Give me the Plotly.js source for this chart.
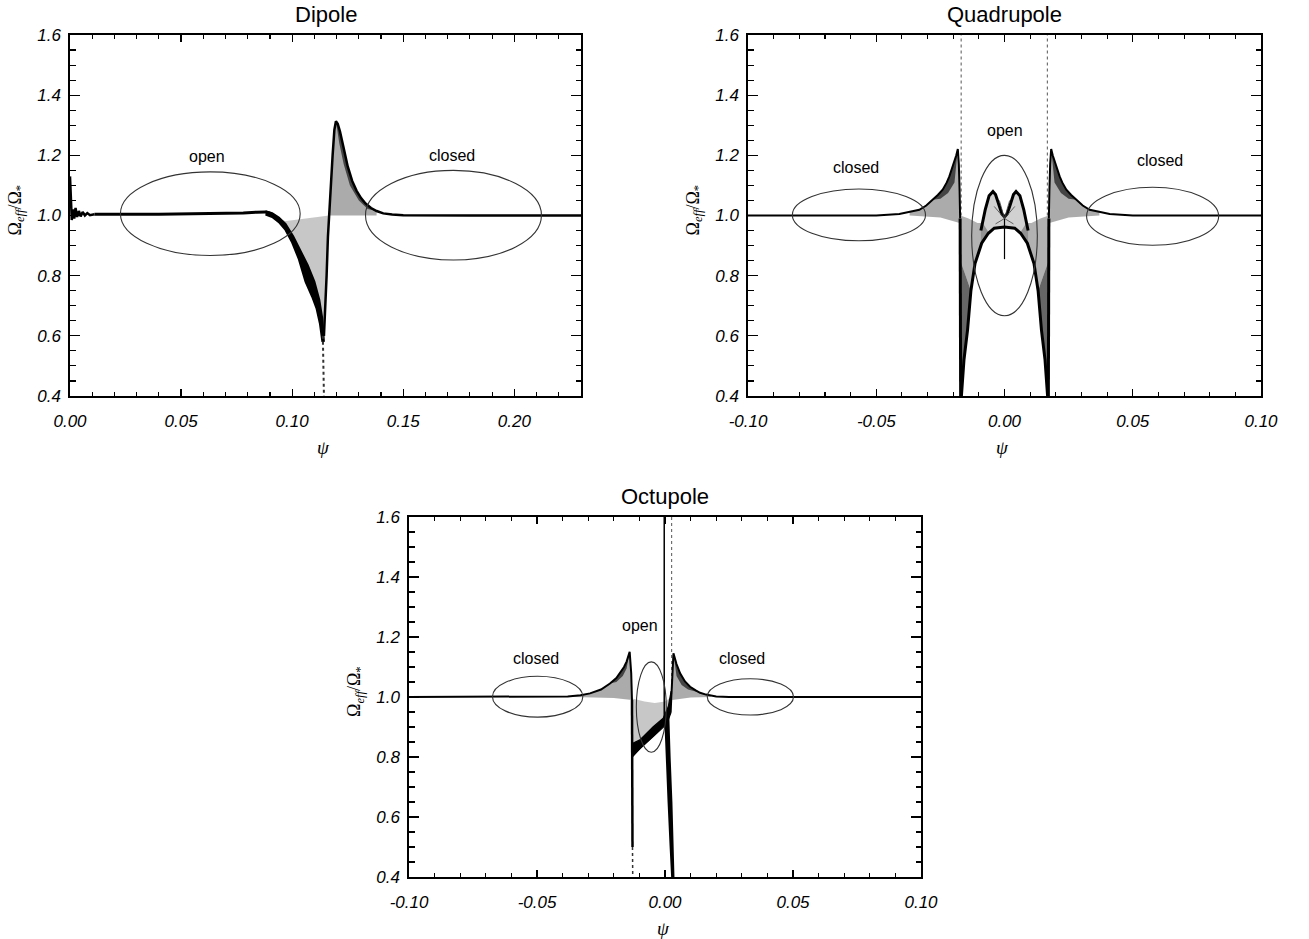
<!DOCTYPE html>
<html><head><meta charset="utf-8">
<script src="https://cdn.plot.ly/plotly-3.0.1.min.js"></script>
<style>html,body{margin:0;padding:0;background:#fff}</style>
</head><body>
<div id="plot" style="width:1309px;height:939px"></div>
<script>
// ---------------- Tick labels ----------------
const dipTickVals = [0, 0.05, 0.1, 0.15, 0.2];
const dipTickText = ['0.00', '0.05', '0.10', '0.15', '0.20'];
const multTickVals = [-0.1, -0.05, 0, 0.05, 0.1];
const multTickText = ['-0.10', '-0.05', '0.00', '0.05', '0.10'];
const yTickVals = [0.4, 0.6, 0.8, 1.0, 1.2, 1.4, 1.6];
const yTickText = ['0.4', '0.6', '0.8', '1.0', '1.2', '1.4', '1.6'];

// ---------------- Dipole data ----------------
const dipNoiseX = [0, 0.0004, 0.0008, 0.0013, 0.0019, 0.0025, 0.0032, 0.004, 0.0048, 0.0057, 0.0067, 0.0078, 0.009, 0.011];
const dipNoiseY = [1.13, 1.02, 0.985, 1.02, 0.99, 1.025, 0.995, 1.015, 0.997, 1.012, 1.0, 1.008, 1.001, 1.004];
const dipFlatX = [0.011, 0.02, 0.03, 0.04, 0.05, 0.06, 0.07, 0.078, 0.084, 0.088, 0.09];
const dipFlatY = [1.004, 1.003, 1.004, 1.004, 1.005, 1.005, 1.006, 1.008, 1.011, 1.012, 1.008];
const dipBundleUpX = [0.088, 0.091, 0.094, 0.097, 0.1005, 0.104, 0.107, 0.11, 0.1122, 0.1135, 0.1143];
const dipBundleUpY = [1.014, 1.008, 0.993, 0.972, 0.93, 0.88, 0.835, 0.78, 0.72, 0.66, 0.58];
const dipBundleLoX = [0.088, 0.091, 0.094, 0.097, 0.1, 0.103, 0.106, 0.109, 0.111, 0.1125, 0.1136];
const dipBundleLoY = [1.003, 0.995, 0.978, 0.952, 0.91, 0.855, 0.78, 0.73, 0.69, 0.64, 0.58];
const dipTailX = [0.1138, 0.114, 0.1141, 0.1143];
const dipTailY = [0.60, 0.52, 0.46, 0.40];
const dipPeakX = [0.1143, 0.1149, 0.1155, 0.1161, 0.1166, 0.1174, 0.1182, 0.119, 0.1197, 0.1205, 0.1215, 0.123, 0.125, 0.127, 0.129, 0.131, 0.133, 0.1355, 0.138, 0.141, 0.145, 0.15, 0.16, 0.18, 0.2, 0.23];
const dipPeakY = [0.60, 0.68, 0.80, 0.93, 1.0, 1.1, 1.2, 1.285, 1.313, 1.305, 1.28, 1.23, 1.163, 1.115, 1.082, 1.058, 1.04, 1.025, 1.015, 1.007, 1.003, 1.001, 1.0, 1.0, 1.0, 1.0];
const dipFanUpTopX = [0.1166, 0.1174, 0.1182, 0.119, 0.1197, 0.1205, 0.1215, 0.123, 0.125, 0.127, 0.129, 0.131, 0.133, 0.1355, 0.138];
const dipFanUpTopY = [1.0, 1.1, 1.2, 1.285, 1.313, 1.305, 1.28, 1.23, 1.163, 1.115, 1.082, 1.058, 1.04, 1.025, 1.015];
const dipFanUpBaseX = [0.1166, 0.138];
const dipFanUpBaseY = [1.0, 1.0];
const dipDarkInX = [0.1197, 0.1212, 0.1232, 0.126, 0.13, 0.134, 0.138];
const dipDarkInY = [1.313, 1.24, 1.17, 1.1, 1.05, 1.022, 1.015];
const dipFanLoTopX = [0.093, 0.097, 0.1, 0.104, 0.108, 0.112, 0.1166];
const dipFanLoTopY = [0.99, 0.982, 0.984, 0.988, 0.993, 0.997, 1.0];
const dipFanLoBotX = [0.093, 0.097, 0.1005, 0.104, 0.107, 0.11, 0.1122, 0.1135, 0.1143, 0.1155, 0.1161, 0.1166];
const dipFanLoBotY = [0.997, 0.972, 0.93, 0.88, 0.835, 0.78, 0.72, 0.66, 0.60, 0.80, 0.93, 1.0];

// ---------------- Quadrupole data ----------------
const quadEnvLX = [-0.1, -0.05, -0.041, -0.037, -0.0332, -0.0305, -0.028, -0.026, -0.0241, -0.0225, -0.0215, -0.0205, -0.0195, -0.0188, -0.0182, -0.0178, -0.0175, -0.0173];
const quadEnvLY = [1.0, 1.0, 1.005, 1.011, 1.019, 1.033, 1.052, 1.068, 1.086, 1.11, 1.13, 1.155, 1.18, 1.2, 1.221, 1.17, 1.08, 0.99];
const quadEnvRX = [0.1, 0.05, 0.041, 0.037, 0.0332, 0.0305, 0.028, 0.026, 0.0241, 0.0225, 0.0215, 0.0205, 0.0195, 0.0188, 0.0182, 0.0178, 0.0175, 0.0173];
const quadEnvRY = [1.0, 1.0, 1.005, 1.011, 1.019, 1.033, 1.052, 1.068, 1.086, 1.11, 1.13, 1.155, 1.18, 1.2, 1.221, 1.17, 1.08, 0.99];
const quadFanBaseLX = [-0.037, -0.025, -0.0175];
const quadFanBaseLY = [1.0, 0.993, 0.975];
const quadFanBaseRX = [0.037, 0.025, 0.0175];
const quadFanBaseRY = [1.0, 0.993, 0.975];
const quadDarkLX = [-0.028, -0.025, -0.022, -0.0195, -0.0182];
const quadDarkLY = [1.052, 1.056, 1.075, 1.11, 1.221];
const quadDarkRX = [0.028, 0.025, 0.022, 0.0195, 0.0182];
const quadDarkRY = [1.052, 1.056, 1.075, 1.11, 1.221];
const quadWallLX = [-0.0173, -0.0172, -0.0171];
const quadWallLY = [0.99, 0.7, 0.4];
const quadWallRX = [0.0173, 0.0172, 0.0171];
const quadWallRY = [0.99, 0.7, 0.4];
const quadDotLX = [-0.0169, -0.0169];
const quadDotLY = [1.0, 1.6];
const quadDotRX = [0.0167, 0.0167];
const quadDotRY = [1.0, 1.6];
const quadPlatX = [-0.0168, -0.0158, -0.0144, -0.0131, -0.0115, -0.0089, -0.0063, -0.004, 0, 0.004, 0.0063, 0.0089, 0.0115, 0.0131, 0.0144, 0.0158, 0.0168];
const quadPlatY = [0.40, 0.52, 0.62, 0.75, 0.84, 0.908, 0.941, 0.958, 0.962, 0.958, 0.941, 0.908, 0.84, 0.75, 0.62, 0.52, 0.40];
const quadWedgeLX = [-0.0172, -0.0172, -0.0131, -0.0144, -0.0158, -0.0168];
const quadWedgeLY = [0.4, 0.85, 0.75, 0.62, 0.52, 0.4];
const quadWedgeRX = [0.0172, 0.0172, 0.0131, 0.0144, 0.0158, 0.0168];
const quadWedgeRY = [0.4, 0.85, 0.75, 0.62, 0.52, 0.4];
const quadFanInLX = [-0.0172, -0.014, -0.0105, -0.0085, -0.0063, -0.0089, -0.0115, -0.0131, -0.0172];
const quadFanInLY = [1.0, 0.99, 0.975, 0.975, 0.945, 0.908, 0.84, 0.75, 0.85];
const quadFanInRX = [0.0172, 0.014, 0.0105, 0.0085, 0.0063, 0.0089, 0.0115, 0.0131, 0.0172];
const quadFanInRY = [1.0, 0.99, 0.975, 0.975, 0.945, 0.908, 0.84, 0.75, 0.85];
const quadMX = [-0.0092, -0.0075, -0.006, -0.0045, -0.0035, -0.0022, -0.001, 0, 0.001, 0.0022, 0.0035, 0.0045, 0.006, 0.0075, 0.0092];
const quadMY = [0.95, 1.02, 1.066, 1.08, 1.07, 1.035, 1.005, 0.995, 1.005, 1.035, 1.07, 1.08, 1.066, 1.02, 0.95];
const quadMBaseX = [-0.0092, -0.0063, -0.004, 0, 0.004, 0.0063, 0.0092];
const quadMBaseY = [0.905, 0.941, 0.958, 0.962, 0.958, 0.941, 0.905];
const quadSpikeX = [0, 0];
const quadSpikeY = [1.0, 0.855];
const quadStarX = [-0.004, 0, 0.004, null, -0.0035, 0, 0.0035, null, -0.002, 0, 0.002];
const quadStarY = [1.03, 0.99, 1.03, null, 0.972, 0.99, 0.972, null, 1.05, 0.99, 1.05];

// ---------------- Octupole data ----------------
const octEnvLX = [-0.1, -0.045, -0.038, -0.033, -0.0293, -0.025, -0.0215, -0.019, -0.0176, -0.016, -0.015, -0.0143, -0.0138, -0.0132, -0.0129];
const octEnvLY = [1.0, 1.0, 1.002, 1.006, 1.012, 1.025, 1.045, 1.063, 1.079, 1.1, 1.118, 1.138, 1.151, 1.08, 0.99];
const octFanBaseLX = [-0.036, -0.02, -0.0129];
const octFanBaseLY = [1.0, 0.997, 0.99];
const octDarkLX = [-0.0215, -0.019, -0.0165, -0.015, -0.0138];
const octDarkLY = [1.045, 1.05, 1.07, 1.095, 1.151];
const octWallLX = [-0.0129, -0.0128, -0.0127];
const octWallLY = [0.99, 0.75, 0.5];
const octWallLDotX = [-0.0127, -0.0126, -0.0126];
const octWallLDotY = [0.5, 0.45, 0.4];
const octSUpX = [-0.0128, -0.0098, -0.0046, -0.0007, 0.0013, 0.0024];
const octSUpY = [0.845, 0.857, 0.901, 0.929, 0.968, 1.02];
const octSLoX = [-0.0128, -0.0098, -0.0046, -0.0013, 0.0007, 0.0024];
const octSLoY = [0.80, 0.828, 0.868, 0.895, 0.91, 0.95];
const octFanOpenTopX = [-0.0128, -0.008, -0.004, 0.0, 0.0024];
const octFanOpenTopY = [0.995, 0.985, 0.98, 0.985, 1.0];
const octLegLX = [-0.0003, 0.0002, 0.001, 0.0018, 0.0024];
const octLegLY = [0.93, 0.8, 0.65, 0.5, 0.4];
const octLegRX = [0.0016, 0.0022, 0.0029, 0.0034, 0.0037];
const octLegRY = [0.96, 0.8, 0.65, 0.5, 0.4];
const octVertX = [-0.0003, -0.0003];
const octVertY = [1.6, 0.93];
const octDotX = [0.0026, 0.0026];
const octDotY = [1.6, 1.0];
const octEnvRX = [0.0022, 0.0028, 0.0033, 0.0045, 0.0059, 0.0078, 0.0098, 0.012, 0.0137, 0.016, 0.0176, 0.02, 0.025, 0.1];
const octEnvRY = [0.95, 1.08, 1.146, 1.11, 1.079, 1.052, 1.034, 1.022, 1.014, 1.008, 1.005, 1.002, 1.0, 1.0];
const octFanBaseRX = [0.0028, 0.01, 0.018];
const octFanBaseRY = [0.99, 0.998, 1.0];
const octDarkRX = [0.0033, 0.0045, 0.0065, 0.009, 0.0137];
const octDarkRY = [1.146, 1.07, 1.04, 1.025, 1.014];

// ---------------- Region ellipses and labels ----------------
const dipEllipses = [[0.0227, 0.1036, 0.867, 1.145], [0.133, 0.2122, 0.852, 1.15]];
const quadEllipses = [[-0.0827, -0.0308, 0.916, 1.088], [0.032, 0.0835, 0.901, 1.094], [-0.0128, 0.0128, 0.667, 1.2]];
const octEllipses = [[-0.0674, -0.0321, 0.933, 1.069], [0.0165, 0.0502, 0.94, 1.061], [-0.0112, 0.0005, 0.816, 1.117]];
const dipLabels = [["open", 0.0617, 1.196], ["closed", 0.172, 1.2]];
const quadLabels = [["closed", -0.0578, 1.159], ["open", 0.0, 1.282], ["closed", 0.0605, 1.182]];
const octLabels = [["closed", -0.0504, 1.13], ["open", -0.0098, 1.237], ["closed", 0.0301, 1.13]];
const panelTitles = ["Dipole", "Quadrupole", "Octupole"];

// ---------------- build ----------------
const traces = [];
function line(x, y, ax, w, dash, color) {
  traces.push({x: x, y: y, xaxis: 'x' + ax, yaxis: 'y' + ax, type: 'scatter', mode: 'lines',
    line: {color: color || '#000', width: w, dash: dash || 'solid'}, hoverinfo: 'skip', showlegend: false});
}
function fillPoly(xa, ya, xb, yb, ax, col) {
  const x = xa.concat(xb.slice().reverse());
  const y = ya.concat(yb.slice().reverse());
  traces.push({x: x, y: y, xaxis: 'x' + ax, yaxis: 'y' + ax, type: 'scatter', mode: 'lines', fill: 'toself',
    fillcolor: col, line: {width: 0, color: col}, hoverinfo: 'skip', showlegend: false});
}
function fillSelf(x, y, ax, col) {
  traces.push({x: x, y: y, xaxis: 'x' + ax, yaxis: 'y' + ax, type: 'scatter', mode: 'lines', fill: 'toself',
    fillcolor: col, line: {width: 0, color: col}, hoverinfo: 'skip', showlegend: false});
}
const FAN = 'rgba(0,0,0,0.33)', DARK = 'rgba(0,0,0,0.6)';

// Dipole (axis '')
fillPoly(dipFanUpTopX, dipFanUpTopY, dipFanUpBaseX, dipFanUpBaseY, '', FAN);
fillPoly(dipFanUpTopX.slice(4), dipFanUpTopY.slice(4), dipDarkInX, dipDarkInY, '', DARK);
fillPoly(dipFanLoTopX, dipFanLoTopY, dipFanLoBotX, dipFanLoBotY, '', 'rgba(0,0,0,0.22)');
fillPoly(dipBundleUpX, dipBundleUpY, dipBundleLoX, dipBundleLoY, '', '#000');
line(dipNoiseX, dipNoiseY, '', 2.5);
line(dipFlatX, dipFlatY, '', 3);
line(dipBundleUpX, dipBundleUpY, '', 2);
line(dipBundleLoX, dipBundleLoY, '', 2);
line(dipTailX, dipTailY, '', 2, 'dot', '#333');
line(dipPeakX, dipPeakY, '', 2.5);

// Quadrupole (axis '2')
fillPoly(quadEnvLX.slice(3, 17), quadEnvLY.slice(3, 17), quadFanBaseLX, quadFanBaseLY, '2', FAN);
fillPoly(quadEnvRX.slice(3, 17), quadEnvRY.slice(3, 17), quadFanBaseRX, quadFanBaseRY, '2', FAN);
fillPoly(quadEnvLX.slice(6, 15), quadEnvLY.slice(6, 15), quadDarkLX, quadDarkLY, '2', DARK);
fillPoly(quadEnvRX.slice(6, 15), quadEnvRY.slice(6, 15), quadDarkRX, quadDarkRY, '2', DARK);
fillSelf(quadWedgeLX, quadWedgeLY, '2', DARK);
fillSelf(quadWedgeRX, quadWedgeRY, '2', DARK);
fillSelf(quadFanInLX, quadFanInLY, '2', 'rgba(0,0,0,0.3)');
fillSelf(quadFanInRX, quadFanInRY, '2', 'rgba(0,0,0,0.3)');
fillPoly(quadMX, quadMY, quadMBaseX, quadMBaseY, '2', 'rgba(0,0,0,0.18)');
line(quadDotLX, quadDotLY, '2', 1, 'dot', '#555');
line(quadDotRX, quadDotRY, '2', 1, 'dot', '#555');
line(quadEnvLX, quadEnvLY, '2', 2);
line(quadEnvRX, quadEnvRY, '2', 2);
line(quadWallLX, quadWallLY, '2', 3);
line(quadWallRX, quadWallRY, '2', 3);
line(quadPlatX, quadPlatY, '2', 3);
line(quadMX, quadMY, '2', 3);
line(quadSpikeX, quadSpikeY, '2', 1.2);
line(quadStarX, quadStarY, '2', 0.8, 'solid', '#444');

// Octupole (axis '3')
fillPoly(octEnvLX.slice(2, 14), octEnvLY.slice(2, 14), octFanBaseLX, octFanBaseLY, '3', FAN);
fillPoly(octEnvRX.slice(1, 11), octEnvRY.slice(1, 11), octFanBaseRX, octFanBaseRY, '3', FAN);
fillPoly(octEnvLX.slice(6, 13), octEnvLY.slice(6, 13), octDarkLX, octDarkLY, '3', DARK);
fillPoly(octEnvRX.slice(2, 9), octEnvRY.slice(2, 9), octDarkRX, octDarkRY, '3', DARK);
fillPoly(octFanOpenTopX, octFanOpenTopY, octSUpX, octSUpY, '3', 'rgba(0,0,0,0.22)');
fillPoly(octSUpX, octSUpY, octSLoX, octSLoY, '3', '#000');
fillPoly(octLegLX, octLegLY, octLegRX, octLegRY, '3', '#000');
line(octDotX, octDotY, '3', 1, 'dot', '#555');
line(octVertX, octVertY, '3', 1.5);
line(octEnvLX, octEnvLY, '3', 2);
line(octEnvRX, octEnvRY, '3', 2);
line(octWallLX, octWallLY, '3', 2.5);
line(octWallLDotX, octWallLDotY, '3', 1.5, 'dot', '#333');
line(octSUpX, octSUpY, '3', 1.2);
line(octSLoX, octSLoY, '3', 1.2);

// shapes and annotations
const shapes = [];
function ellipses(list, ax) {
  list.forEach(e => shapes.push({type: 'circle', xref: 'x' + ax, yref: 'y' + ax,
    x0: e[0], x1: e[1], y0: e[2], y1: e[3], line: {color: '#333', width: 1.1}}));
}
ellipses(dipEllipses, ''); ellipses(quadEllipses, '2'); ellipses(octEllipses, '3');

const annotations = [];
const lblFont = {family: 'Liberation Sans, Arial, sans-serif', size: 16, color: '#000'};
function labels(list, ax) {
  list.forEach(l => annotations.push({text: l[0], x: l[1], y: l[2], xref: 'x' + ax, yref: 'y' + ax,
    showarrow: false, font: lblFont, xanchor: 'center', yanchor: 'middle'}));
}
labels(dipLabels, ''); labels(quadLabels, '2'); labels(octLabels, '3');

const W = 1309, H = 939;
const panels = [
  {ax: '', x0: 70, x1: 581, y0: 35, y1: 396},
  {ax: '2', x0: 748, x1: 1261, y0: 35, y1: 396},
  {ax: '3', x0: 409, x1: 921, y0: 517, y1: 877}
];
const titleFont = {family: 'Liberation Sans, Arial, sans-serif', size: 22, color: '#000'};
panels.forEach((p, i) => {
  const cx = (p.x0 + p.x1) / 2 / W;
  annotations.push({text: panelTitles[i], xref: 'paper', yref: 'paper', x: cx, y: 1 - (p.y0 - 21) / H,
    showarrow: false, font: titleFont, xanchor: 'center', yanchor: 'middle'});
  annotations.push({text: 'ψ', xref: 'paper', yref: 'paper', x: cx - 2 / W, y: 1 - (p.y1 + 51) / H,
    showarrow: false, font: {family: 'Liberation Serif, serif', size: 19, color: '#000', style: 'italic'},
    xanchor: 'center', yanchor: 'middle'});
  annotations.push({text: 'Ω<sub><i>eff</i></sub>/Ω<sub>*</sub>', xref: 'paper', yref: 'paper',
    x: (p.x0 - 54) / W, y: 1 - ((p.y0 + p.y1) / 2 - 5) / H, textangle: -90,
    showarrow: false, font: {family: 'Liberation Serif, serif', size: 18, color: '#000'},
    xanchor: 'center', yanchor: 'middle'});
});

const tickFont = {family: 'Liberation Sans, Arial, sans-serif', size: 17, color: '#000', style: 'italic'};
function xax(p, range, vals, text) {
  return {domain: [p.x0 / W, p.x1 / W], range: range, anchor: 'y' + p.ax, showgrid: false, zeroline: false,
    showline: true, linecolor: '#000', linewidth: 1.6, mirror: 'ticks', ticks: 'inside', ticklen: 7,
    tickwidth: 1.3, tickcolor: '#000', tickmode: 'array', tickvals: vals, ticktext: text, tickfont: tickFont,
    ticklabelstandoff: 9,
    minor: {tickmode: 'linear', dtick: 0.01, tick0: 0, ticks: 'inside', ticklen: 4, tickwidth: 1.1, tickcolor: '#000'}};
}
function yax(p) {
  return {domain: [1 - p.y1 / H, 1 - p.y0 / H], range: [0.4, 1.6], anchor: 'x' + p.ax, showgrid: false, zeroline: false,
    showline: true, linecolor: '#000', linewidth: 1.6, mirror: 'ticks', ticks: 'inside', ticklen: 10,
    tickwidth: 1.3, tickcolor: '#000', tickmode: 'array', tickvals: yTickVals, ticktext: yTickText, tickfont: tickFont,
    ticklabelstandoff: 4,
    minor: {tickmode: 'linear', dtick: 0.05, tick0: 0, ticks: 'inside', ticklen: 5.5, tickwidth: 1.1, tickcolor: '#000'}};
}

const layout = {
  width: W, height: H, margin: {l: 0, r: 0, t: 0, b: 0}, paper_bgcolor: '#fff', plot_bgcolor: '#fff',
  showlegend: false,
  xaxis: xax(panels[0], [0, 0.23], dipTickVals, dipTickText), yaxis: yax(panels[0]),
  xaxis2: xax(panels[1], [-0.1, 0.1], multTickVals, multTickText), yaxis2: yax(panels[1]),
  xaxis3: xax(panels[2], [-0.1, 0.1], multTickVals, multTickText), yaxis3: yax(panels[2]),
  shapes: shapes, annotations: annotations
};
Plotly.newPlot('plot', traces, layout, {displayModeBar: false, staticPlot: true});
</script>
</body></html>
